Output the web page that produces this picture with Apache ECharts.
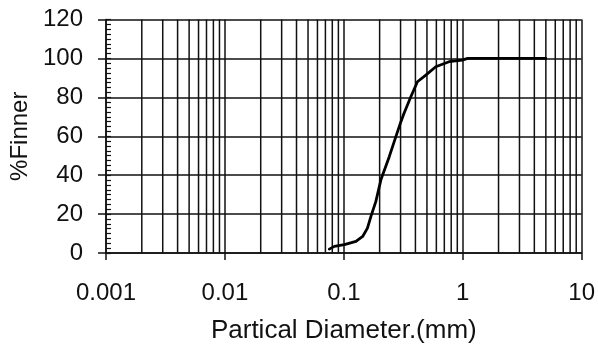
<!DOCTYPE html>
<html>
<head>
<meta charset="utf-8">
<script src="https://cdn.jsdelivr.net/npm/echarts@6/dist/echarts.min.js"></script>
<style>
html,body{margin:0;padding:0;background:#fff;}
#chart{width:598px;height:349px;}
</style>
</head>
<body>
<div id="chart"></div>
<script>
// Particle diameter (mm) and percent finer
var diameters = [0.0755, 0.0832, 0.101, 0.1265, 0.144, 0.158, 0.169, 0.186, 0.205, 0.241, 0.274, 0.302, 0.321, 0.366, 0.416, 0.489, 0.593, 0.767, 0.99, 1.1, 5.0];
var percentFiner = [2, 3.4, 4.3, 6, 8.5, 12.8, 18.8, 26.5, 37.6, 49.5, 59.8, 67.5, 71.8, 80.3, 88, 91.4, 95.7, 98.3, 99.1, 100, 100];
// Log-scale minor grid values (2..9 in each decade)
var minorGridX = [0.002,0.003,0.004,0.005,0.006,0.007,0.008,0.009,
                  0.02,0.03,0.04,0.05,0.06,0.07,0.08,0.09,
                  0.2,0.3,0.4,0.5,0.6,0.7,0.8,0.9,
                  2,3,4,5,6,7,8,9];
var xTickLabels = ['0.001','0.01','0.1','1','10'];
var yTickLabels = ['0','20','40','60','80','100','120'];
var yMin = 0, yMax = 120;

var chart = echarts.init(document.getElementById('chart'), null, {renderer:'canvas'});
var font = 'Liberation Sans, Arial, sans-serif';
var gridColor = '#111';

var gridSeries = minorGridX.map(function (v) {
  return {
    type: 'line', silent: true, symbol: 'none', showSymbol: false,
    data: [[v, yMin], [v, yMax]],
    lineStyle: {color: gridColor, width: 1.5},
    z: 1, tooltip: {show: false}
  };
});

chart.setOption({
  animation: false,
  backgroundColor: '#fff',
  grid: {left: 106, right: 15, top: 19.5, bottom: 95.7, containLabel: false},
  xAxis: {
    type: 'log', logBase: 10, min: 0.001, max: 10,
    name: 'Partical Diameter.(mm)', nameLocation: 'middle', nameGap: 65,
    nameTextStyle: {fontFamily: font, fontSize: 26, color: '#111'},
    axisLine: {show: true, lineStyle: {color: gridColor, width: 1.5}},
    axisTick: {show: true, inside: false, length: 7, lineStyle: {color: gridColor, width: 1.5}},
    axisLabel: {
      fontFamily: font, fontSize: 24, color: '#111', margin: 28,
      formatter: function (v, i) { return xTickLabels[i] !== undefined ? xTickLabels[i] : String(v); }
    },
    splitLine: {show: true, lineStyle: {color: gridColor, width: 1.5}},
    minorTick: {show: false}, minorSplitLine: {show: false}
  },
  yAxis: [{
    type: 'value', min: yMin, max: yMax, interval: 20, position: 'left',
    name: '%Finner', nameLocation: 'middle', nameGap: 74, nameRotate: 90,
    nameTextStyle: {fontFamily: font, fontSize: 24, color: '#111'},
    axisLine: {show: true, lineStyle: {color: gridColor, width: 1.5}},
    axisTick: {show: true, inside: false, length: 8, lineStyle: {color: gridColor, width: 1.5}},
    axisLabel: {
      fontFamily: font, fontSize: 24, color: '#111', margin: 23,
      formatter: function (v, i) { return yTickLabels[i] !== undefined ? yTickLabels[i] : String(v); }
    },
    splitLine: {show: true, lineStyle: {color: gridColor, width: 1.5}}
  }, {
    type: 'value', min: yMin, max: yMax, interval: 2.5, position: 'left', offset: 0,
    axisLine: {show: false},
    axisTick: {show: true, inside: true, length: 5, lineStyle: {color: gridColor, width: 1.2}},
    axisLabel: {show: false},
    splitLine: {show: false}
  }],
  series: gridSeries.concat([{
    type: 'line',
    data: diameters.map(function (d, i) { return [d, percentFiner[i]]; }),
    showSymbol: false, symbol: 'none', smooth: false,
    lineStyle: {color: '#000', width: 2.8, join: 'round', cap: 'round'},
    z: 5
  }])
});
</script>
</body>
</html>
